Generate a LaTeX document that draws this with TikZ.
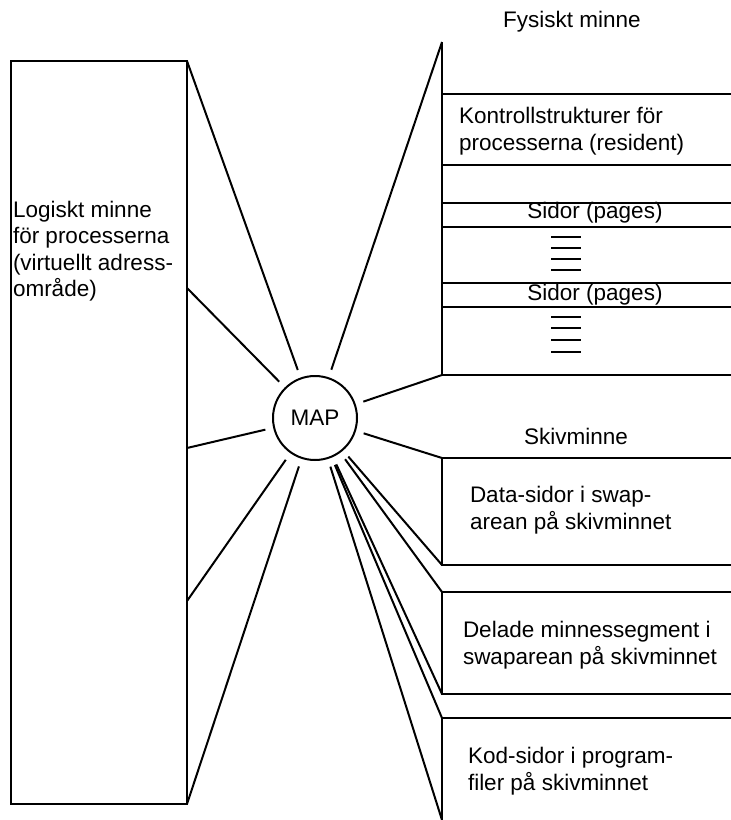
\documentclass[tikz,border=0pt]{standalone}
\usepackage{fontspec}
\setmainfont{Liberation Sans}
\usepackage{tikz}

\begin{document}
\begin{tikzpicture}[x=1pt,y=-1pt,line width=2pt]
            \useasboundingbox (0,0) rectangle (731,820);

            \begin{scope}[every node/.style={font=\fontsize{22.5}{26.5}\selectfont, inner sep=0pt, outer sep=0pt}]
                \node[draw, circle, minimum size=84pt, outer sep=9pt] (map) at (315,418) {MAP};

                \node[draw, anchor=north west, minimum width=176pt, minimum height=743pt] (logisk) at (11,61) {};
                \node[anchor=west, align=left] (logisktext) at (13,251) {Logiskt minne\\för processerna\\(virtuellt adress-\\område)};

                \node (fysisk) at (572,22) {Fysiskt minne};
                \node[anchor=west, align=left] (kontroll) at (459,131) {Kontrollstrukturer för\\processerna (resident)};
                \node (sidor1) at (595,213) {Sidor (pages)};
                \node (sidor2) at (595,295) {Sidor (pages)};

                \node (skiv) at (576,436) {Skivminne};
                \node[anchor=west, align=left] (data) at (470,510) {Data-sidor i swap-\\arean på skivminnet};
                \node[anchor=west, align=left] (delade) at (463,645) {Delade minnessegment i\\swaparean på skivminnet};
                \node[anchor=west, align=left] (kod) at (468,771) {Kod-sidor i program-\\filer på skivminnet};
            \end{scope}

            \coordinate (l1) at (187,288);
            \coordinate (l2) at (187,448);
            \coordinate (l3) at (187,601);

            \coordinate (f1) at (442,42);
            \coordinate (f2) at (442,375);
            \coordinate (d1) at (442,458);
            \coordinate (d2) at (442,565);
            \coordinate (d3) at (442,592);
            \coordinate (d4) at (442,694);
            \coordinate (d5) at (442,718);
            \coordinate (d6) at (442,820);

            \draw (f1) -- (f2) -- (731,375);
            \foreach \y in {94,165,203,227,283,307}
                \draw (442,\y) -- (731,\y);
            \foreach \y in {237,248,259,270,317,328,340,352}
                \draw (551,\y) -- (581,\y);

            \draw (731,458) -- (d1) -- (d2) -- (731,565);
            \draw (731,592) -- (d3) -- (d4) -- (731,694);
            \draw (731,718) -- (d5) -- (d6);

            \begin{scope}[every edge/.style={draw, line width=2pt}]
                \path [-] (logisk.north east) edge (map);
                \path [-] (l1) edge (map);
                \path [-] (l2) edge (map);
                \path [-] (l3) edge (map);
                \path [-] (logisk.south east) edge (map);

                \path [-] (f1) edge (map);
                \path [-] (f2) edge (map);
                \path [-] (d1) edge (map);
                \path [-] (d2) edge (map);
                \path [-] (d3) edge (map);
                \path [-] (d4) edge (map);
                \path [-] (d5) edge (map);
                \path [-] (d6) edge (map);
            \end{scope}
        \end{tikzpicture}
\end{document}
